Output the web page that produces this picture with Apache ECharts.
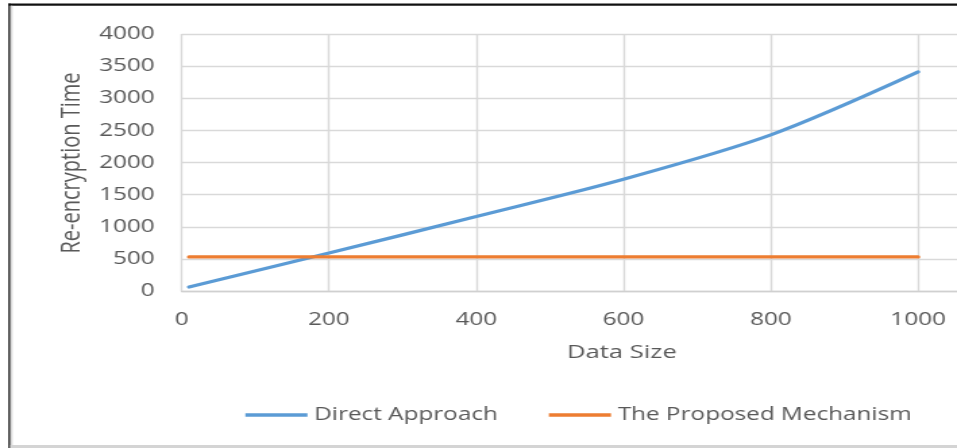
<!DOCTYPE html>
<html>
<head>
<meta charset="utf-8">
<script src="https://cdn.jsdelivr.net/npm/echarts@6/dist/echarts.min.js"></script>
<style>
  html, body { margin: 0; padding: 0; background: #fff; overflow: hidden; }
  /* The chart is laid out on a narrower canvas and widened to 957px */
  #chart { width: 709px; height: 448px; transform: scaleX(1.34979); transform-origin: 0 0; }
</style>
</head>
<body>
<div id="chart"></div>
<script>
// Re-encryption time versus data size
const dataSizes = [10, 200, 400, 600, 800, 1000];
const directApproach = [62, 590, 1160, 1740, 2430, 3410];
const proposedMechanism = [530, 530, 530, 530, 530, 530];

const xTicks = [0, 200, 400, 600, 800, 1000, 1200];
const yTicks = [0, 500, 1000, 1500, 2000, 2500, 3000, 3500, 4000];

const seriesNames = ['Direct Approach', 'The Proposed Mechanism'];
const xTitle = 'Data Size';
const yTitle = 'Re-encryption Time';

const FONT = 'Open Sans';
const TEXT = '#595959';
const GRID = '#d9d9d9';

const pairs = (xs, ys) => xs.map((x, i) => [x, ys[i]]);
const plain = v => String(v);

const chart = echarts.init(document.getElementById('chart'), null, { renderer: 'canvas' });

chart.setOption({
  animation: false,
  backgroundColor: '#ffffff',
  grid: { left: 134.6, top: 34, right: -80.3, bottom: 157, containLabel: false, outerBoundsMode: 'none' },
  xAxis: {
    type: 'value',
    min: xTicks[0],
    max: xTicks[xTicks.length - 1],
    interval: xTicks[1] - xTicks[0],
    axisLine: { show: true, lineStyle: { color: '#d0d0d0', width: 1.4 } },
    axisTick: { show: false },
    splitLine: { show: true, lineStyle: { color: GRID, width: 1.4 } },
    axisLabel: { color: TEXT, fontFamily: FONT, fontSize: 18, margin: 20, formatter: plain }
  },
  yAxis: {
    type: 'value',
    min: yTicks[0],
    max: yTicks[yTicks.length - 1],
    interval: yTicks[1] - yTicks[0],
    axisLine: { show: false },
    axisTick: { show: false },
    splitLine: { show: true, lineStyle: { color: GRID, width: 1.4 } },
    axisLabel: { color: TEXT, fontFamily: FONT, fontSize: 18, margin: 20, formatter: plain }
  },
  legend: {
    left: 181.8,
    top: 406,
    padding: 0,
    icon: 'rect',
    itemWidth: 46,
    itemHeight: 3.5,
    itemGap: 37.8,
    textStyle: { color: TEXT, fontFamily: FONT, fontSize: 18 },
    data: seriesNames
  },
  series: [
    {
      name: seriesNames[0],
      type: 'line',
      data: pairs(dataSizes, directApproach),
      symbol: 'none',
      smooth: 0.3,
      color: '#5B9BD5',
      lineStyle: { width: 3.2, color: '#5B9BD5', cap: 'round' }
    },
    {
      name: seriesNames[1],
      type: 'line',
      data: pairs(dataSizes, proposedMechanism),
      symbol: 'none',
      color: '#ED7D31',
      lineStyle: { width: 3.2, color: '#ED7D31', cap: 'round' }
    }
  ],
  graphic: [
    {
      type: 'text',
      x: 53.1, y: 163,
      rotation: Math.PI / 2,
      style: { text: yTitle, fill: TEXT, font: '20px "Open Sans"', align: 'center', verticalAlign: 'middle' }
    },
    {
      type: 'text',
      x: 460.7, y: 352.7,
      style: { text: xTitle, fill: TEXT, font: '19px "Open Sans"', align: 'center', verticalAlign: 'middle' }
    },
    // frame around the figure
    { type: 'rect', shape: { x: 6.2, y: 3.5, width: 720, height: 2.2 }, style: { fill: '#111111' } },
    { type: 'rect', shape: { x: 6.2, y: 3.5, width: 1.5, height: 460 }, style: { fill: '#111111' } },
    { type: 'rect', shape: { x: 7.7, y: 5.7, width: 1.6, height: 460 }, style: { fill: '#d8d8d8' } },
    { type: 'rect', shape: { x: 7.7, y: 445, width: 720, height: 3 }, style: { fill: '#d4d4d4' } }
  ]
});
</script>
</body>
</html>
